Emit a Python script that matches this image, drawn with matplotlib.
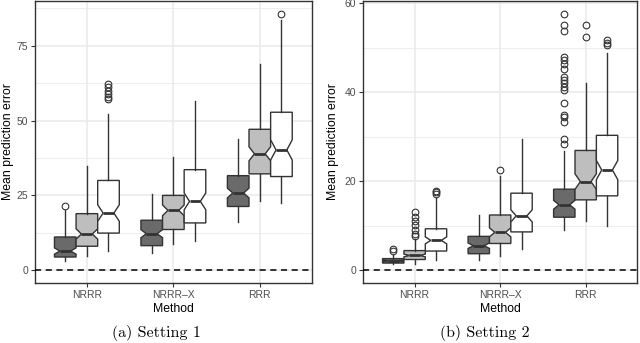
import matplotlib
matplotlib.use('Agg')
import matplotlib.pyplot as plt
import numpy as np

methods = ['NRRR', 'NRRR\u2013X', 'RRR']
fills = ['#6A6A6A', '#BEBEBE', '#FFFFFF']
n_runs = 100  # replications per box, used for the notch width

# Setting 1: one list per fill (dark, light, white), values per method
s1_whislo = [[3.0, 5.8, 16.0], [4.7, 8.8, 23.2], [6.3, 9.7, 22.4]]
s1_q1 = [[4.4, 8.2, 21.3], [8.0, 13.6, 32.2], [12.4, 15.8, 31.3]]
s1_med = [[6.4, 12.2, 25.8], [12.1, 20.0, 38.9], [19.1, 23.0, 40.2]]
s1_q3 = [[11.1, 16.7, 31.6], [18.9, 25.0, 47.1], [30.0, 33.6, 52.8]]
s1_whishi = [[20.0, 25.4, 43.8], [34.7, 38.0, 68.8], [52.2, 56.6, 83.5]]
s1_fliers = [
    [[21.6], [], []],
    [[], [], []],
    [[62.1, 61.2, 60.0, 58.9, 58.0, 57.3], [], [85.7]],
]

# Setting 2
s2_whislo = [[1.3, 2.2, 9.0], [1.5, 3.1, 11.1], [2.2, 4.8, 10.0]]
s2_q1 = [[1.6, 3.7, 11.9], [2.4, 6.0, 15.8], [4.3, 8.6, 16.7]]
s2_med = [[2.1, 5.5, 14.7], [3.3, 8.5, 19.9], [6.7, 12.2, 22.5]]
s2_q3 = [[2.6, 7.6, 18.2], [4.4, 12.4, 26.9], [9.3, 17.3, 30.3]]
s2_whishi = [[3.4, 12.5, 26.7], [6.9, 21.2, 42.0], [16.2, 29.5, 48.9]]
s2_fliers = [
    [[4.7, 4.2], [],
     [57.6, 55.0, 53.8, 47.9, 47.2, 46.4, 45.3, 43.4, 42.7, 42.0, 41.1,
      40.5, 37.6, 34.9, 34.4, 33.2, 29.5, 28.4]],
    [[13.1, 12.0, 11.0, 10.1, 9.1, 8.2, 7.6], [22.6], [55.2, 52.4]],
    [[17.9, 17.5, 17.1], [], [51.7, 51.1, 50.5]],
]

GREY20 = '#333333'
GREY30 = '#4D4D4D'
GRID = '#EBEBEB'
SANS = 'Liberation Sans'


def draw_panel(ax, whislo, q1, med, q3, whishi, fliers, major, minor):
    ylo = min(0, min(min(v) for v in whislo))
    yhi = max(max(max(v) for v in whishi),
              max([max(f) for row in fliers for f in row if f] or [0]))
    pad = 0.05 * (yhi - ylo)

    # grid like theme_bw
    for y in minor:
        ax.axhline(y, color=GRID, lw=0.6, zorder=0)
    for y in major:
        ax.axhline(y, color=GRID, lw=1.2, zorder=0)
    for x in range(1, len(methods) + 1):
        ax.axvline(x, color=GRID, lw=1.2, zorder=0)

    offsets = [-0.25, 0.0, 0.25]
    for k in range(3):
        stats = []
        for i in range(len(methods)):
            iqr = q3[k][i] - q1[k][i]
            half = 1.58 * iqr / np.sqrt(n_runs)
            stats.append(dict(med=med[k][i], q1=q1[k][i], q3=q3[k][i],
                              whislo=whislo[k][i], whishi=whishi[k][i],
                              fliers=fliers[k][i],
                              cilo=med[k][i] - half, cihi=med[k][i] + half))
        pos = [i + 1 + offsets[k] for i in range(len(methods))]
        ax.bxp(stats, positions=pos, widths=0.25, patch_artist=True,
               shownotches=True, showcaps=False,
               boxprops=dict(facecolor=fills[k], edgecolor=GREY20, lw=1.0),
               medianprops=dict(color=GREY20, lw=2.0),
               whiskerprops=dict(color=GREY20, lw=1.0),
               flierprops=dict(marker='o', markersize=4.8, markerfacecolor='none',
                               markeredgecolor=GREY20, markeredgewidth=0.8),
               manage_ticks=False, zorder=2)

    ax.axhline(0, color='black', lw=1.1, ls=(0, (4, 3)), zorder=3)

    ax.set_xlim(0.4, len(methods) + 0.6)
    ax.set_ylim(ylo - pad, yhi + pad)
    ax.set_xticks(range(1, len(methods) + 1))
    ax.set_xticklabels(methods)
    ax.set_yticks(major)
    ax.tick_params(length=3, width=0.8, color=GREY20, labelcolor=GREY30,
                   labelsize=7.5, pad=2)
    for lab in ax.get_xticklabels() + ax.get_yticklabels():
        lab.set_fontfamily(SANS)
    for sp in ax.spines.values():
        sp.set_color(GREY20)
        sp.set_linewidth(1.0)
    ax.set_xlabel('Method', fontsize=8.8, fontfamily=SANS, labelpad=2)
    ax.set_ylabel('Mean prediction error', fontsize=8.8, fontfamily=SANS,
                  va='center')


def main():
    fig = plt.figure(figsize=(6.4, 3.43), dpi=100)
    W, H = 640, 343
    ax1 = fig.add_axes([35 / W, 60 / H, 276.7 / W, 282 / H])
    ax2 = fig.add_axes([363.3 / W, 60 / H, 273.7 / W, 282 / H])

    draw_panel(ax1, s1_whislo, s1_q1, s1_med, s1_q3, s1_whishi, s1_fliers,
               [0, 25, 50, 75], [12.5, 37.5, 62.5, 87.5])
    draw_panel(ax2, s2_whislo, s2_q1, s2_med, s2_q3, s2_whishi, s2_fliers,
               [0, 20, 40, 60], [10, 30, 50])
    ax1.yaxis.set_label_coords((8.5 - 35) / 276.7, 0.5)
    ax2.yaxis.set_label_coords((333.5 - 363.3) / 273.7, 0.5)

    fig.text(156 / W, 1 - 333 / H, '(a) Setting 1', ha='center', va='center',
             fontsize=11.5, fontfamily='cmr10')
    fig.text(485 / W, 1 - 333 / H, '(b) Setting 2', ha='center', va='center',
             fontsize=11.5, fontfamily='cmr10')

    fig.savefig('out.png', dpi=100)


if __name__ == '__main__':
    main()
